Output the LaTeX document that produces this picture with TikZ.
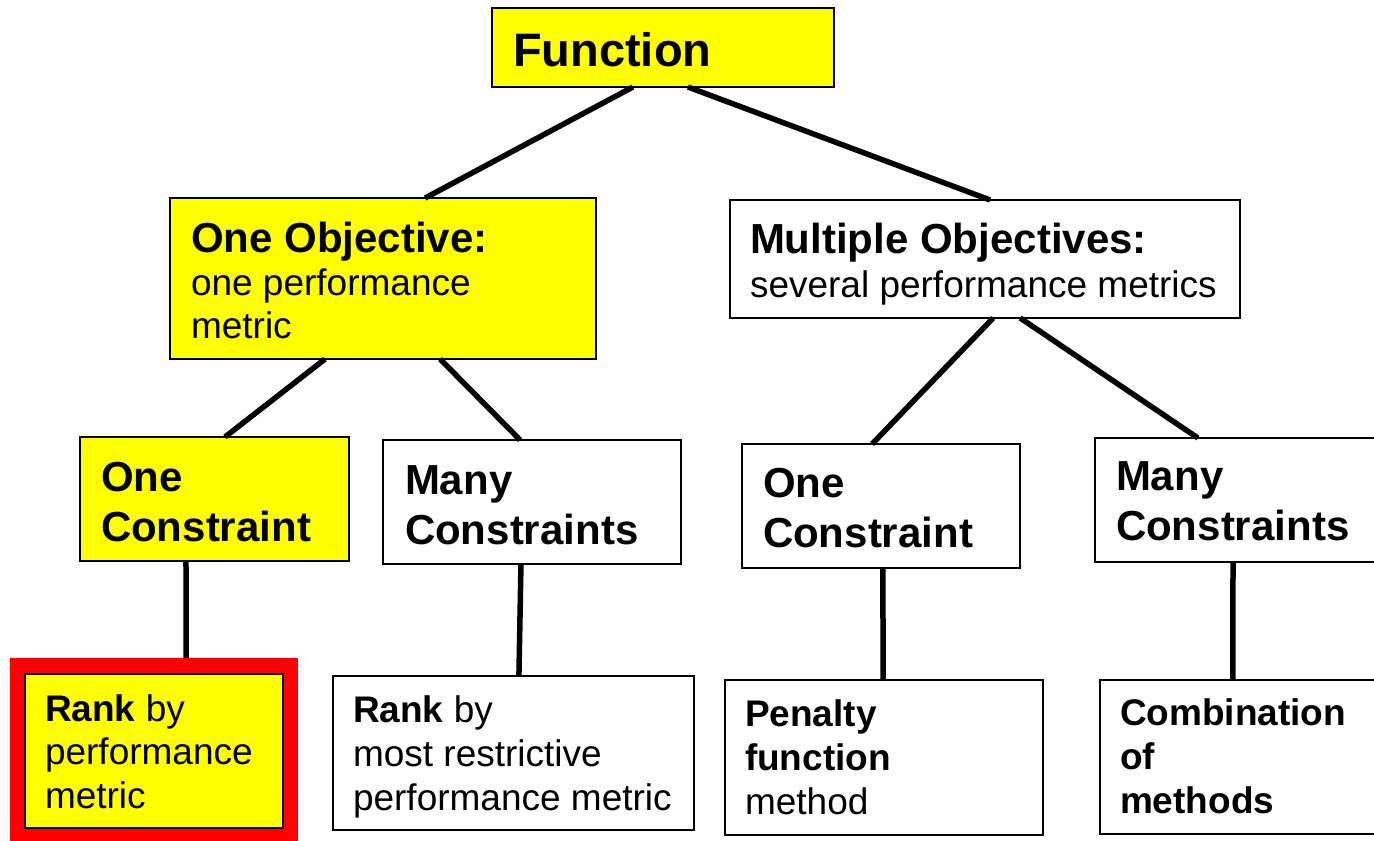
\documentclass[tikz,border=0pt]{standalone}
\usepackage{fontspec}
\setmainfont{Liberation Sans}
\usetikzlibrary{calc}
\definecolor{hotyellow}{RGB}{255,255,0}
\definecolor{hotred}{RGB}{255,0,0}
% stacked lines: first baseline is the box baseline
\newcommand\linesat[2]{\vtop{\baselineskip=#1pt\lineskiplimit=-100pt\relax #2}}
\newcommand\headline[1]{\hbox{\fontsize{42}{50}\selectfont\bfseries #1}}
\newcommand\bodyline[1]{\hbox{\fontsize{37}{44}\selectfont #1}}
\begin{document}
\begin{tikzpicture}[x=1pt,y=-1pt,
  box/.style={draw=black,line width=2pt,anchor=north west,inner sep=0pt,outer sep=0pt},
  hot/.style={box,fill=hotyellow},
  plain/.style={box,fill=white},
  txt/.style={anchor=base west,inner sep=0pt,outer sep=0pt},
  link/.style={draw=black,line width=5.5pt}]
\useasboundingbox (0,0) rectangle (1374,841);
\clip (0,0) rectangle (1374,841);

% boxes
\node[hot,minimum width=342pt,minimum height=79pt] (fn) at (492,8) {};
\node[hot,minimum width=426pt,minimum height=161pt] (oo) at (170,198) {};
\node[plain,minimum width=510pt,minimum height=118pt] (mo) at (730,200) {};
\node[hot,minimum width=269pt,minimum height=124pt] (oc1) at (80,437) {};
\node[plain,minimum width=298pt,minimum height=124pt] (mc1) at (383,440) {};
\node[plain,minimum width=278pt,minimum height=124pt] (oc2) at (742,444) {};
\node[plain,minimum width=300pt,minimum height=124pt] (mc2) at (1095,438) {};
\node[anchor=north west,fill=hotred,inner sep=0pt,minimum width=288pt,minimum height=190pt] (rf) at (10,658) {};
\node[hot,minimum width=258pt,minimum height=154pt] (rk1) at (25,674) {};
\node[plain,minimum width=361pt,minimum height=154pt] (rk2) at (333,676) {};
\node[plain,minimum width=318pt,minimum height=155pt] (pf) at (725,680) {};
\node[plain,minimum width=300pt,minimum height=154pt] (cm) at (1100,680) {};

% connectors
\draw[link] ($(fn.south west)!0.412!(fn.south east)$) -- ($(oo.north west)!0.599!(oo.north east)$);
\draw[link] ($(fn.south west)!0.573!(fn.south east)$) -- ($(mo.north west)!0.510!(mo.north east)$);
\draw[link] ($(oo.south west)!0.364!(oo.south east)$) -- ($(oc1.north west)!0.539!(oc1.north east)$);
\draw[link] ($(oo.south west)!0.634!(oo.south east)$) -- ($(mc1.north west)!0.460!(mc1.north east)$);
\draw[link] ($(mo.south west)!0.516!(mo.south east)$) -- ($(oc2.north west)!0.468!(oc2.north east)$);
\draw[link] ($(mo.south west)!0.569!(mo.south east)$) -- ($(mc2.north west)!0.343!(mc2.north east)$);
\draw[link] ($(oc1.south west)!0.394!(oc1.south east)$) -- ($(rf.north west)!0.611!(rf.north east)$);
\draw[link] ($(mc1.south west)!0.463!(mc1.south east)$) -- ($(rk2.north west)!0.515!(rk2.north east)$);
\draw[link] ($(oc2.south west)!0.507!(oc2.south east)$) -- ($(pf.north west)!0.497!(pf.north east)$);
\draw[link] ($(mc2.south west)!0.460!(mc2.south east)$) -- ($(cm.north west)!0.443!(cm.north east)$);

% texts
\node[txt] (tfn) at (513,66) {\fontsize{47}{56}\selectfont\bfseries Function};
\node[txt] (too) at (191,252) {\linesat{43}{\headline{One Objective:}\bodyline{one performance}\bodyline{metric}}};
\node[txt] (tmo) at (750,253) {\linesat{44}{\headline{Multiple Objectives:}\bodyline{several performance metrics}}};
\node[txt] (toc1) at (101,491) {\linesat{50}{\headline{One}\headline{Constraint}}};
\node[txt] (tmc1) at (405,494) {\linesat{50}{\headline{Many}\headline{Constraints}}};
\node[txt] (toc2) at (763,497) {\linesat{50}{\headline{One}\headline{Constraint}}};
\node[txt] (tmc2) at (1116,490) {\linesat{50}{\headline{Many}\headline{Constraints}}};
\node[txt] (trk1) at (45,721) {\linesat{43.5}{\bodyline{\textbf{Rank} by}\bodyline{performance}\bodyline{metric}}};
\node[txt] (trk2) at (353,722) {\linesat{44}{\bodyline{\textbf{Rank} by}\bodyline{most restrictive}\bodyline{performance metric}}};
\node[txt] (tpf) at (745,726) {\linesat{44}{\bodyline{\textbf{Penalty}}\bodyline{\textbf{function}}\bodyline{method}}};
\node[txt] (tcm) at (1120,725) {\linesat{44}{\bodyline{\textbf{Combination}}\bodyline{\textbf{of}}\bodyline{\textbf{methods}}}};
\end{tikzpicture}
\end{document}
